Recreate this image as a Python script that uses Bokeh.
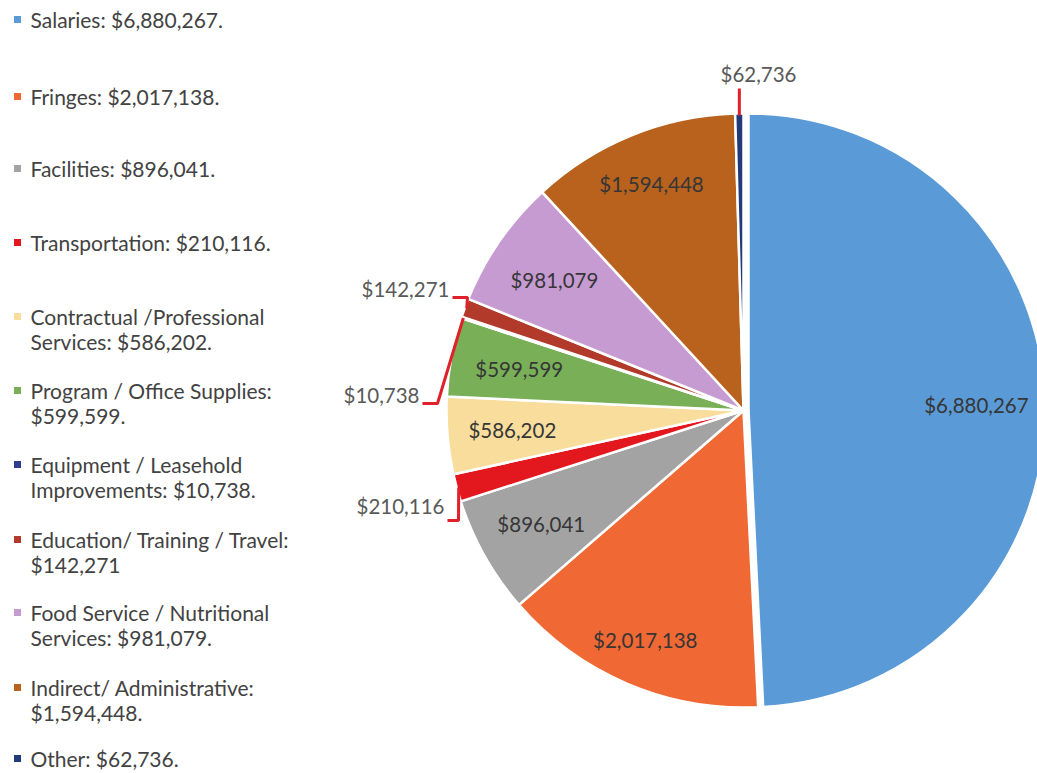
import numpy as np
from bokeh.plotting import figure
from bokeh.models import Range1d, ColumnDataSource
from bokeh.embed import file_html
from bokeh.resources import INLINE
from bokeh.core.properties import value

# ---------------- data ----------------
categories = ["Salaries", "Fringes", "Facilities", "Transportation",
              "Contractual /Professional Services", "Program / Office Supplies",
              "Equipment / Leasehold Improvements", "Education/ Training / Travel",
              "Food Service / Nutritional Services", "Indirect/ Administrative", "Other"]
amounts = [6880267, 2017138, 896041, 210116, 586202, 599599,
           10738, 142271, 981079, 1594448, 62736]
legend_labels = ["Salaries: $6,880,267.",
                 "Fringes: $2,017,138.",
                 "Facilities: $896,041.",
                 "Transportation: $210,116.",
                 "Contractual /Professional\nServices: $586,202.",
                 "Program / Office Supplies:\n$599,599.",
                 "Equipment / Leasehold\nImprovements: $10,738.",
                 "Education/ Training / Travel:\n$142,271",
                 "Food Service / Nutritional\nServices: $981,079.",
                 "Indirect/ Administrative:\n$1,594,448.",
                 "Other: $62,736."]

# ---------------- style / layout ----------------
colors = ["#5a9bd7", "#f06833", "#a3a3a3", "#e3181e", "#f9dd9d", "#78af57",
          "#2e3d8f", "#b23a2a", "#c69bd2", "#b8621e", "#233a7a"]
W, H = 1037, 773
CX, CY, R = 743, 410, 297          # pie centre (picture px) and radius
explode = [5, 0, 0, 0, 0, 0, 0, 0, 0, 0, 0]
# inside-label radius (None => outside label with leader line)
label_r = [228, 250, 232, None, 232, 228, None, None, 230, 244, None]
outside_pos = {3: (400, 505), 6: (381, 394), 7: (405, 288), 10: (758, 73)}
# leader line: start point, elbow point (picture px); end is slice edge
leader_pts = {3: [(447, 520), (458, 520)],
              6: [(422, 403), (437, 403)],
              7: [(452, 297), (467, 297)],
              10: [(None, 88)]}
legend_y = [19, 96, 168, 242, 316, 390, 464, 539, 612, 687, 758]
LINE_SP = 24.5
FONT = "Lato"
TXT = "#424242"

p = figure(width=W, height=H, output_backend="svg", toolbar_location=None,
           x_range=Range1d(0, W), y_range=Range1d(-H, 0),
           min_border=0, match_aspect=False)
p.axis.visible = False
p.grid.visible = False
p.outline_line_color = None
p.background_fill_color = "white"

vals = np.array(amounts, dtype=float)
frac = vals / vals.sum()
cum = np.cumsum(frac)
before = cum - frac
start = np.pi / 2 - 2 * np.pi * before
end = np.pi / 2 - 2 * np.pi * cum
mid = (start + end) / 2

wx = CX + np.array(explode) * np.cos(mid)
wy = -CY + np.array(explode) * np.sin(mid)
src = ColumnDataSource(dict(x=wx, y=wy, start=start, end=end, color=colors))
p.wedge(x="x", y="y", radius=R, start_angle="start", end_angle="end",
        direction="clock", fill_color="color", line_color="white",
        line_width=2.5, source=src)

# data labels
lx, ly, lt, lc = [], [], [], []
for i, v in enumerate(amounts):
    txt = "${:,}".format(v)
    if label_r[i] is not None:
        lx.append(wx[i] + label_r[i] * np.cos(mid[i]))
        ly.append(wy[i] + label_r[i] * np.sin(mid[i]))
        lc.append("#363636")
    else:
        ox, oy = outside_pos[i]
        lx.append(ox)
        ly.append(-oy)
        lc.append("#595959")
    lt.append(txt)
p.text(x=lx, y=ly, text=lt, text_color=lc, text_align="center",
       text_baseline="middle", text_font=value(FONT), text_font_size="20.5px")

# leader lines
for i, pts in leader_pts.items():
    ex = wx[i] + (R - 2) * np.cos(mid[i])
    ey = wy[i] + (R - 2) * np.sin(mid[i])
    xs = [ex if pt[0] is None else pt[0] for pt in pts] + [ex]
    ys = [-pt[1] for pt in pts] + [ey]
    p.line(xs, ys, line_color="#e0202a", line_width=3)

# legend (each line placed separately)
tx, ty, tt = [], [], []
for y0, lab in zip(legend_y, legend_labels):
    for k, line in enumerate(lab.split("\n")):
        tx.append(30)
        ty.append(-(y0 + k * LINE_SP))
        tt.append(line)
p.text(x=tx, y=ty, text=tt, text_color=TXT, text_align="left",
       text_baseline="middle", text_font=value(FONT), text_font_size="21px")
p.scatter(x=[17] * len(legend_y), y=[-y for y in legend_y], marker="square",
          size=7, fill_color=colors, line_color=None)

open("out.html", "w").write(file_html(p, INLINE))
